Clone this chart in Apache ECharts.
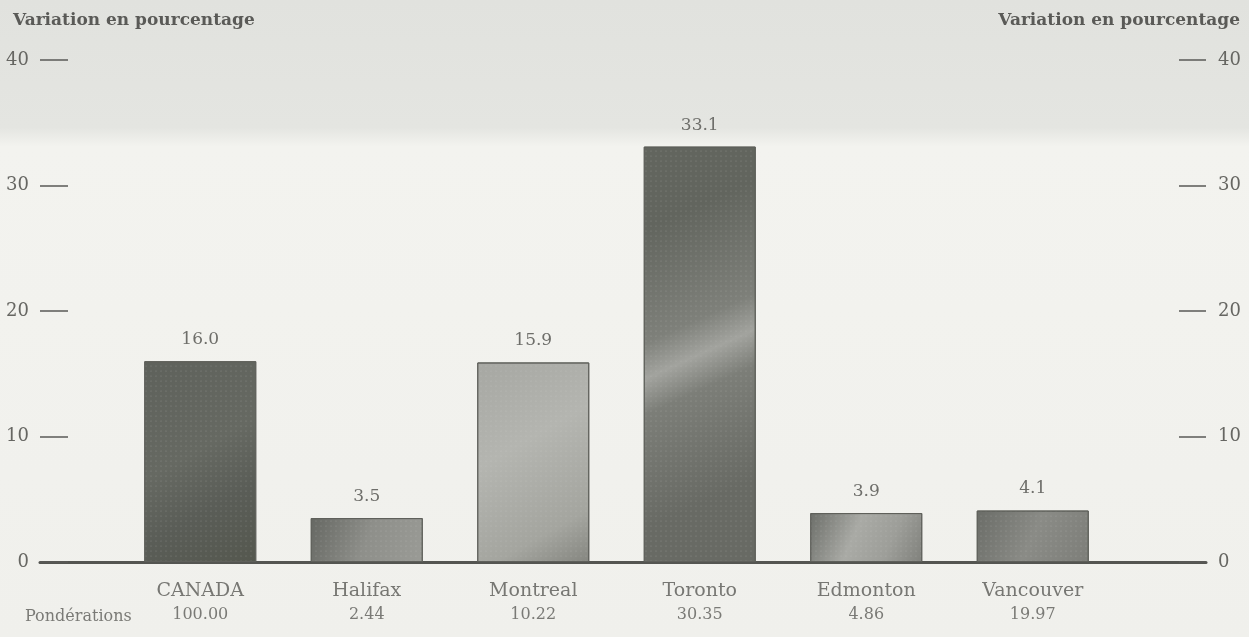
<!DOCTYPE html>
<html>
<head>
<meta charset="utf-8">
<script src="https://cdn.jsdelivr.net/npm/echarts@6/dist/echarts.min.js"></script>
<style>
html,body{margin:0;padding:0;background:#efefeb;}
#chart{width:1249px;height:637px;}
</style>
</head>
<body>
<div id="chart"></div>
<script>
var categories = ['CANADA', 'Halifax', 'Montreal', 'Toronto', 'Edmonton', 'Vancouver'];
var values = [16.0, 3.5, 15.9, 33.1, 3.9, 4.1];
var weights = ['100.00', '2.44', '10.22', '30.35', '4.86', '19.97'];
var yTicks = [0, 10, 20, 30, 40];
var axisTitle = 'Variation en pourcentage';
var weightsLabel = 'Pondérations';

var SERIF = '"DejaVu Serif", "Liberation Serif", serif';

function grad(stops) {
  return new echarts.graphic.LinearGradient(0, 0, 1, 1, stops.map(function (s) { return { offset: s[0], color: s[1] }; }));
}
var barFills = [
  grad([[0, '#5e615b'], [0.45, '#666962'], [0.7, '#5a5d57'], [1, '#55584f']]),
  grad([[0, '#656762'], [0.5, '#8e8f8a'], [1, '#9a9b96']]),
  grad([[0, '#a6a7a2'], [0.4, '#b4b5b0'], [0.8, '#a4a59f'], [1, '#858680']]),
  new echarts.graphic.LinearGradient(0, 0.2, 1, 0.8, [
    { offset: 0, color: '#62655e' }, { offset: 0.38, color: '#7e807a' }, { offset: 0.5, color: '#a2a39e' },
    { offset: 0.62, color: '#7c7e78' }, { offset: 1, color: '#686a64' }
  ]),
  grad([[0, '#6c6e69'], [0.4, '#a9aaa5'], [0.7, '#9d9e99'], [1, '#80817c']]),
  grad([[0, '#6a6c67'], [0.5, '#8a8b86'], [1, '#7d7e79']])
];

var chart = echarts.init(document.getElementById('chart'), null, { renderer: 'canvas' });

var option = {
  animation: false,
  backgroundColor: new echarts.graphic.LinearGradient(0, 0, 0, 1, [
    { offset: 0, color: '#e1e2de' },
    { offset: 0.2, color: '#e4e5e1' },
    { offset: 0.23, color: '#f3f3ef' },
    { offset: 1, color: '#f0f0ec' }
  ]),
  title: [
    { text: axisTitle, left: 8, top: 7, textStyle: { fontFamily: SERIF, fontSize: 17, fontWeight: 'bold', color: '#5a5a57' } },
    { text: axisTitle, right: 4, top: 7, textStyle: { fontFamily: SERIF, fontSize: 17, fontWeight: 'bold', color: '#5a5a57' } },
    { text: weightsLabel, left: 20, top: 604, textStyle: { fontFamily: SERIF, fontSize: 16, fontWeight: 'normal', color: '#7a7a76' } }
  ],
  grid: [
    { left: 117, right: 133, top: 60, bottom: 75 },
    { left: 40, right: 43, top: 60, bottom: 75 }
  ],
  xAxis: [
    {
      type: 'category', gridIndex: 0, data: categories,
      axisLine: { show: false }, axisTick: { show: false },
      axisLabel: {
        margin: 18,
        formatter: function (v, i) { return '{n|' + v + '}\n{w|' + weights[i] + '}'; },
        rich: {
          n: { fontFamily: SERIF, fontSize: 19, color: '#777773', lineHeight: 23 },
          w: { fontFamily: SERIF, fontSize: 16, color: '#7a7a76', lineHeight: 23 }
        }
      }
    },
    {
      type: 'value', gridIndex: 1, min: 0, max: 1,
      axisLine: { show: true, lineStyle: { color: '#545551', width: 3 } },
      axisTick: { show: false }, axisLabel: { show: false }, splitLine: { show: false }
    }
  ],
  yAxis: [
    { type: 'value', gridIndex: 0, min: 0, max: 40, interval: 10, show: false },
    {
      type: 'value', gridIndex: 1, position: 'left', min: yTicks[0], max: yTicks[yTicks.length - 1], interval: 10,
      axisLine: { show: false },
      axisTick: { show: true, inside: true, length: 28, lineStyle: { color: '#5a5a57', width: 1.5 } },
      axisLabel: { margin: 11, fontFamily: SERIF, fontSize: 18, color: '#666662' },
      splitLine: { show: false }
    },
    {
      type: 'value', gridIndex: 1, position: 'right', min: yTicks[0], max: yTicks[yTicks.length - 1], interval: 10,
      axisLine: { show: false },
      axisTick: { show: true, inside: true, length: 27, lineStyle: { color: '#5a5a57', width: 1.5 } },
      axisLabel: { margin: 12, fontFamily: SERIF, fontSize: 18, color: '#666662' },
      splitLine: { show: false }
    }
  ],
  series: [
    {
      type: 'bar', xAxisIndex: 0, yAxisIndex: 0, barWidth: 112,
      data: values.map(function (v, i) {
        return { value: v, itemStyle: { color: barFills[i] } };
      }),
      itemStyle: {
        borderColor: '#5f605b', borderWidth: 1,
        decal: { symbol: 'circle', symbolSize: 0.5, dashArrayX: [2, 3], dashArrayY: [2, 3], color: 'rgba(230,230,225,0.35)' }
      },
      label: {
        show: true, position: 'top', distance: 13,
        formatter: function (p) { return p.value.toFixed(1); },
        fontFamily: SERIF, fontSize: 17, color: '#6e6e6a'
      },
      z: 3
    }
  ]
};
chart.setOption(option);
</script>
</body>
</html>
